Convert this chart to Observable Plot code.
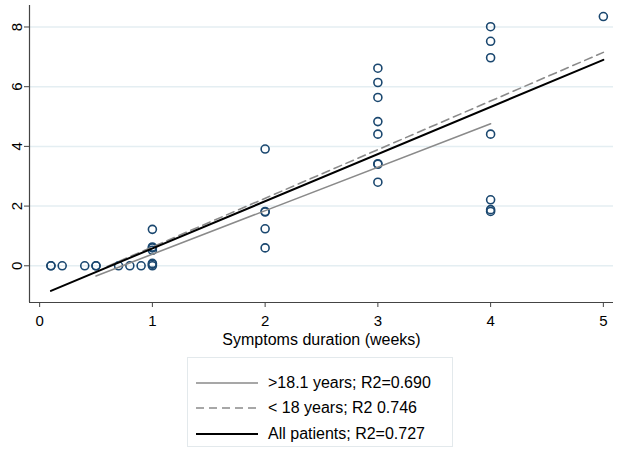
<!DOCTYPE html>
<html>
<head>
<meta charset="utf-8">
<script src="https://cdn.jsdelivr.net/npm/d3@7"></script>
<script src="https://cdn.jsdelivr.net/npm/@observablehq/plot@0.6"></script>
<style>
  body { margin: 0; background: #fff; font-family: "Liberation Sans", Arial, sans-serif; }
  #wrap { position: relative; width: 630px; height: 459px; background: #fff; }
  #legend { position: absolute; left: 187px; top: 357px; width: 266px; height: 90px;
            border: 1px solid #e3e9ec; box-sizing: border-box; font-size: 16px; color: #000; }
  .row { position: absolute; left: 0; height: 20px; display: flex; align-items: center; }
  .row svg { margin-left: 8px; margin-right: 10px; }
</style>
</head>
<body>
<div id="wrap"><div id="chart"></div><div id="legend"></div></div>
<script>
// Scatter points (symptoms duration in weeks, value)
const ptX = [0.1,0.1,0.2,0.4,0.5,0.5,0.7,0.8,0.9,1,1,1,1,1,1,1,
             2,2,2,2,2,
             3,3,3,3,3,3,3,3,
             4,4,4,4,4,4,4,
             5];
const ptY = [0,0,0,0,0,0,0,0,0,0,0.05,0.08,0.52,0.6,0.63,1.22,
             3.91,1.82,1.8,1.24,0.6,
             6.62,6.14,5.64,4.83,4.41,3.42,3.4,2.8,
             8.01,7.52,6.97,4.41,2.21,1.88,1.82,
             8.35];

// Fitted lines (endpoints)
const adultX = [0.5, 4];    const adultY = [-0.34, 4.76];
const youngX = [0.6, 5];    const youngY = [-0.02, 7.15];
const allX   = [0.1, 5];    const allY   = [-0.84, 6.9];

const seriesNames = [">18.1 years; R2=0.690", "< 18 years; R2 0.746", "All patients; R2=0.727"];
const xTicks = [0, 1, 2, 3, 4, 5];
const yTicks = [0, 2, 4, 6, 8];
const xDomain = [-0.09, 5.09];
const yDomain = [-1.23, 8.72];
const xLabel = "Symptoms duration (weeks)";

const points = ptX.map((x, i) => ({x, y: ptY[i]}));
const toLine = (xs, ys) => xs.map((x, i) => ({x, y: ys[i]}));

const styles = [
  {stroke: "#8a8a8a", strokeWidth: 1.6, dash: null},
  {stroke: "#8a8a8a", strokeWidth: 1.6, dash: "8,5"},
  {stroke: "#000000", strokeWidth: 2, dash: null}
];

const chart = Plot.plot({
  width: 630, height: 350,
  marginLeft: 29, marginRight: 17, marginTop: 5, marginBottom: 48,
  style: {fontFamily: "'Liberation Sans', Arial, sans-serif", fontSize: "15px", background: "#fff", color: "#000"},
  x: {domain: xDomain},
  y: {domain: yDomain},
  marks: [
    Plot.gridY(yTicks, {stroke: "#e4eef2", strokeOpacity: 1, strokeWidth: 1.5}),
    Plot.ruleX([xDomain[0]], {stroke: "#444", strokeWidth: 1.2}),
    Plot.ruleY([yDomain[0]], {stroke: "#444", strokeWidth: 1.2}),
    Plot.axisX(xTicks, {tickSize: 5, tickPadding: 8, label: null, stroke: "#444", fontSize: 15}),
    Plot.axisY(yTicks, {tickSize: 5, tickPadding: 3, tickRotate: -90, label: null, stroke: "#444", fontSize: 15}),
    Plot.text([xLabel], {frameAnchor: "bottom", dy: 42, fontSize: 16, fill: "#000"}),
    Plot.dot(points, {x: "x", y: "y", r: 4, stroke: "#1a476f", strokeWidth: 1.6, fill: "none"}),
    Plot.line(toLine(adultX, adultY), {x: "x", y: "y", stroke: styles[0].stroke, strokeWidth: styles[0].strokeWidth}),
    Plot.line(toLine(youngX, youngY), {x: "x", y: "y", stroke: styles[1].stroke, strokeWidth: styles[1].strokeWidth, strokeDasharray: styles[1].dash}),
    Plot.line(toLine(allX, allY), {x: "x", y: "y", stroke: styles[2].stroke, strokeWidth: styles[2].strokeWidth})
  ]
});
document.getElementById("chart").appendChild(chart);

const legend = document.getElementById("legend");
const rowTops = [15, 40, 66];
seriesNames.forEach((name, i) => {
  const row = document.createElement("div");
  row.className = "row";
  row.style.top = rowTops[i] + "px";
  const s = styles[i];
  row.innerHTML = `<svg width="62" height="20"><line x1="0" x2="62" y1="10" y2="10" stroke="${s.stroke}" stroke-width="${s.strokeWidth}" ${s.dash ? `stroke-dasharray="${s.dash}"` : ""}/></svg><span>${name}</span>`;
  legend.appendChild(row);
});
</script>
</body>
</html>
